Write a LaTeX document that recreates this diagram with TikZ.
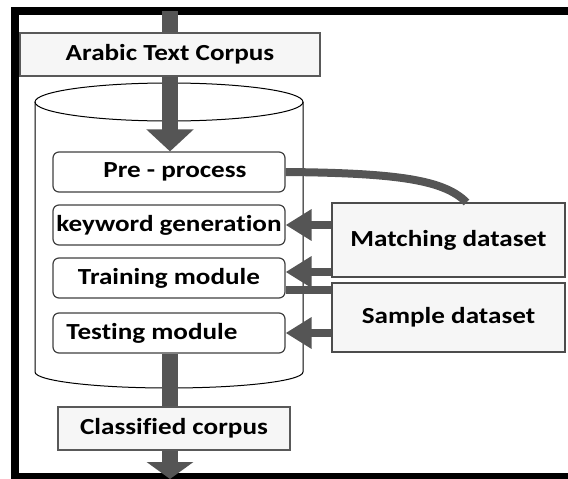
\documentclass[tikz,border=0pt]{standalone}
\usepackage{fontspec}
\setmainfont{Carlito}[FakeStretch=1.18, RawFeature=-liga]
\usetikzlibrary{arrows.meta}
\definecolor{flowgray}{RGB}{85,85,85}
\tikzset{
  module/.style={draw=black!75, line width=1.2pt, rounded corners=6pt, fill=white,
    minimum width=232pt, minimum height=40pt, inner sep=0pt},
  databox/.style={draw=black!70, line width=1.2pt, fill=gray!7,
    minimum width=233pt, inner sep=0pt},
  corpusbox/.style={draw=black!65, line width=1.2pt, fill=gray!7,
    minimum height=43pt, inner sep=0pt},
  mainflow/.style={draw=flowgray, line width=16pt},
  sideflow/.style={draw=flowgray, line width=8pt},
}
\begin{document}
\begin{tikzpicture}[x=1pt, y=-1pt, font=\fontsize{23}{26}\selectfont\bfseries]
  \useasboundingbox (0,0) rectangle (568,479);
  \clip (0,0) rectangle (568,479);
  \draw[line width=8pt] (580,11) -- (15,11) -- (15,477) -- (580,477);
  \draw[line width=1pt] (169,102) ellipse [x radius=134pt, y radius=19pt];
  \draw[line width=1pt] (35,102) -- (35,372)
    arc [start angle=180, end angle=360, x radius=134pt, y radius=16pt] -- (303,102);
  \draw
    (170,54.5) node[corpusbox, minimum width=300pt] (arabic){Arabic Text Corpus}
    (169,172) node[module] (pre){\hspace*{12pt}Pre - process}
    (169,225) node[module] (key){keyword generation}
    (169,278) node[module] (train){Training module}
    (169,333) node[module] (test){Testing module\hspace*{34pt}}
    (174,428.5) node[corpusbox, minimum width=232pt] (class){Classified corpus}
    (448.5,240) node[databox, minimum height=74pt] (match){Matching dataset}
    (448.5,317.5) node[databox, minimum height=69pt] (sample){Sample dataset};
  \coordinate (in) at (170,11);
  \coordinate (out) at (170,479);
  \coordinate (trainin) at ([yshift=6pt]train.east);
  \coordinate (trainout) at ([yshift=-12pt]train.east);
  \begin{scope}[mainflow]
    \draw (in) -- (arabic.north);
    \draw[-{Triangle[width=46pt, length=22pt]}] (arabic.south) -- (arabic.south |- pre.north);
    \draw (test.south -| arabic.south) -- (arabic.south |- class.north);
    \draw[-{Triangle[width=46pt, length=17pt]}] (arabic.south |- class.south) -- (out);
  \end{scope}
  \begin{scope}[sideflow]
    \draw (pre.east) .. controls +(115pt,-1pt) and +(-22pt,22pt) .. ([xshift=18pt]match.north);
    \draw[-{Triangle[width=30pt, length=26pt]}] (match.west |- key.east) -- (key.east);
    \draw[-{Triangle[width=30pt, length=26pt]}] (match.west |- trainin) -- (trainin);
    \draw (trainout) -- (sample.west |- trainout);
    \draw[-{Triangle[width=30pt, length=26pt]}] (sample.west |- test.east) -- (test.east);
  \end{scope}
\end{tikzpicture}
\end{document}
